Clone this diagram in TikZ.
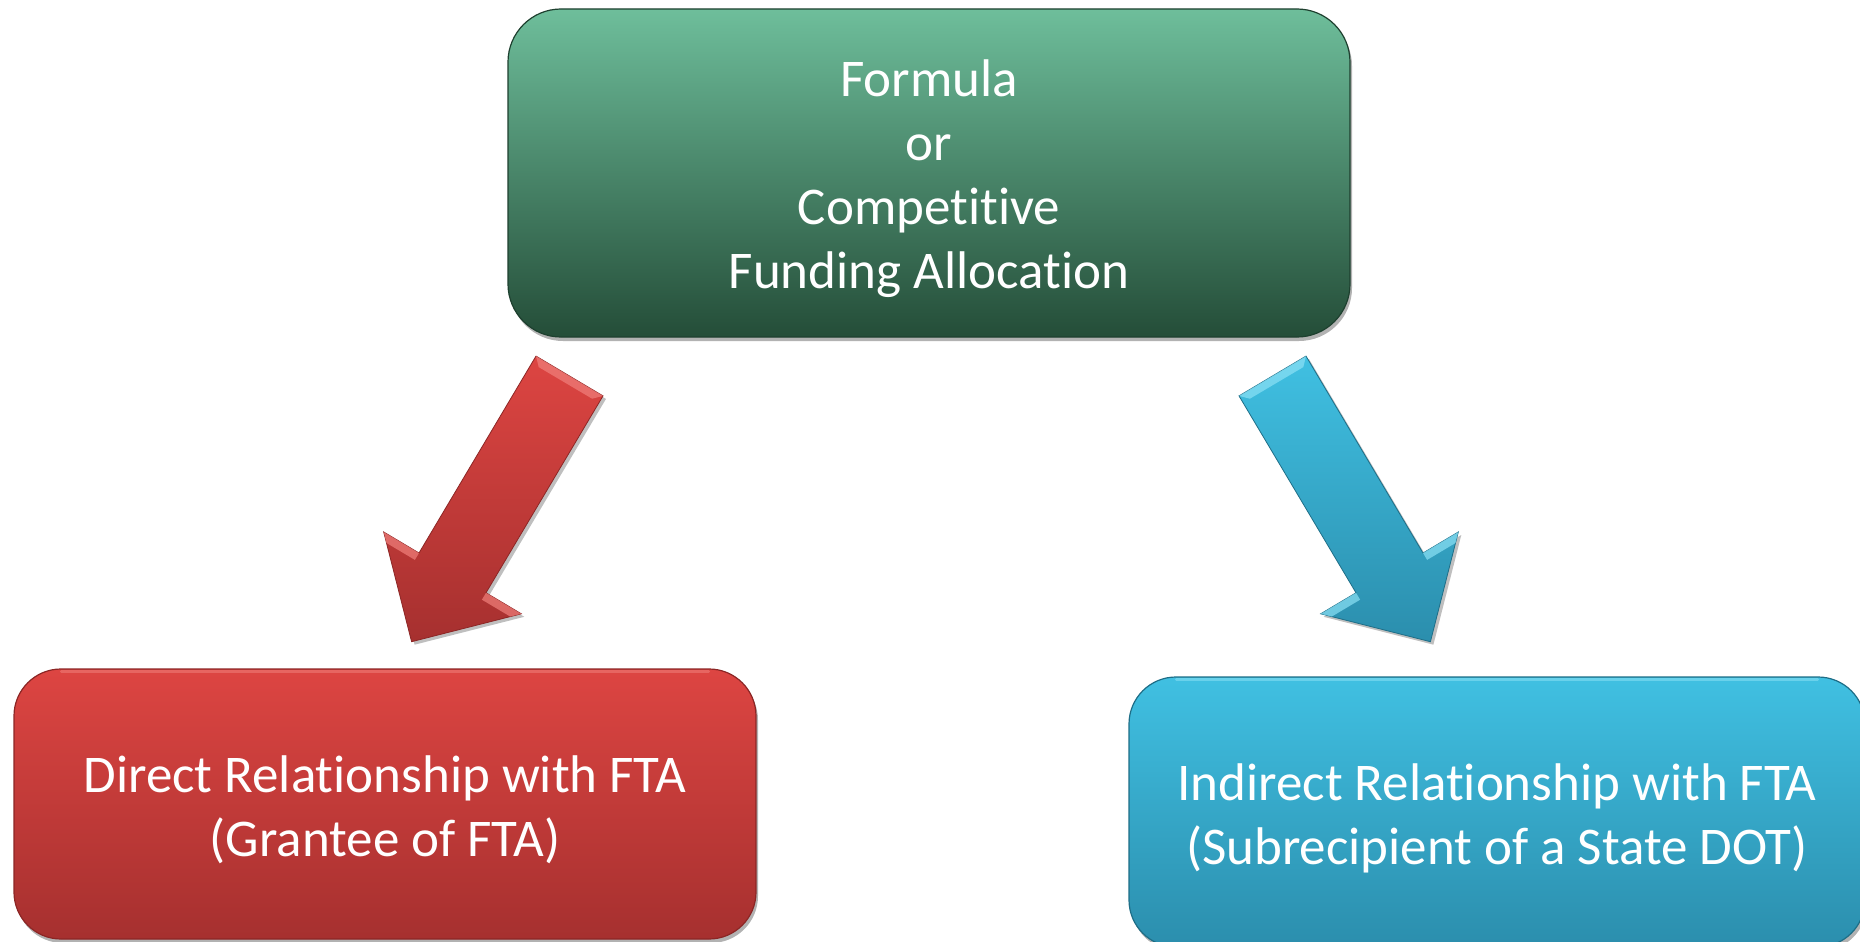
\documentclass[tikz,border=0pt]{standalone}
\usepackage{fontspec}
\setmainfont[Ligatures={NoCommon,NoContextual},RawFeature={-dlig}]{Carlito}
\usetikzlibrary{shadows,calc}
\definecolor{gtop}{RGB}{110,190,155}
\definecolor{gbot}{RGB}{36,77,56}
\definecolor{gedge}{RGB}{30,64,47}
\definecolor{rtop}{RGB}{221,69,66}
\definecolor{rbot}{RGB}{166,48,47}
\definecolor{redge}{RGB}{140,38,37}
\definecolor{rlight}{RGB}{240,128,124}
\definecolor{btop}{RGB}{64,192,226}
\definecolor{bbot}{RGB}{43,142,173}
\definecolor{bedge}{RGB}{30,110,135}
\definecolor{blight}{RGB}{140,225,245}
\begin{document}
\begin{tikzpicture}[x=1pt,y=-1pt,
  box/.style={draw=#1, line width=1.2pt, inner sep=0pt,
    drop shadow={shadow xshift=2pt, shadow yshift=-4pt, opacity=0.3, fill=black}},
  boxtext/.style={align=center, text=white, inner sep=0pt,
    font=\fontsize{53}{64}\selectfont},
  arrowbody/.style={draw=#1, line width=0.8pt,
    drop shadow={shadow xshift=3pt, shadow yshift=-3pt, opacity=0.25, fill=black}},
  bevel/.style={fill=#1, opacity=0.7},
  hilite/.style={draw=#1, line width=3pt, opacity=0.55, line cap=round}]
\useasboundingbox (0,0) rectangle (1860,942);
\fill[white] (0,0) rectangle (1860,942);

% top box
\node[box=gedge, top color=gtop, bottom color=gbot, rounded corners=53pt,
  minimum width=842pt, minimum height=328pt] (top) at (929,173) {};
\node[boxtext] (toptxt) at ($(top.center)+(0,6)$)
  {Formula\\or\\Competitive\\Funding Allocation};

% left box
\node[box=redge, top color=rtop, bottom color=rbot, rounded corners=47pt,
  minimum width=742pt, minimum height=270pt] (left) at (385,804) {};
\draw[hilite=rlight] ($(left.north west)+(48,3)$) -- ($(left.north east)+(-48,3)$);
\node[boxtext] (lefttxt) at ($(left.center)+(0,6)$)
  {Direct Relationship with FTA\\(Grantee of FTA)};

% right box
\node[box=bedge, top color=btop, bottom color=bbot, rounded corners=47pt,
  minimum width=736pt, minimum height=270pt] (right) at (1497,812) {};
\draw[hilite=blight] ($(right.north west)+(48,3)$) -- ($(right.north east)+(-48,3)$);
\node[boxtext] (righttxt) at ($(right.center)+(0,6)$)
  {Indirect Relationship with FTA\\(Subrecipient of a State DOT)};

% red arrow
\coordinate (rtl) at (536.0,356.1);
\coordinate (rtr) at (603.0,395.9);
\coordinate (rjr) at (486.0,592.8);
\coordinate (rbr) at (521.3,613.8);
\coordinate (rtip) at (411.6,641.7);
\coordinate (rbl) at (383.7,532.0);
\coordinate (rjl) at (419.0,553.0);
\path[arrowbody=redge, top color=rtop, bottom color=rbot]
  (rtl) -- (rtr) -- (rjr) -- (rbr) -- (rtip) -- (rbl) -- (rjl) -- cycle;
\fill[bevel=rlight] (rtl) -- (rtr) -- (592.1,398.7) -- (538.7,367.1) -- cycle;
\fill[bevel=rlight] (rjr) -- (rbr) -- (510.3,616.6) -- (481.9,599.7) -- cycle;
\fill[bevel=rlight] (rjl) -- (rbl) -- (386.5,543.0) -- (414.9,559.9) -- cycle;

% blue arrow (mirror about x = 921)
\coordinate (btl) at (1306.0,356.1);
\coordinate (btr) at (1239.0,395.9);
\coordinate (bjr) at (1356.0,592.8);
\coordinate (bbr) at (1320.7,613.8);
\coordinate (btip) at (1430.4,641.7);
\coordinate (bbl) at (1458.3,532.0);
\coordinate (bjl) at (1423.0,553.0);
\path[arrowbody=bedge, top color=btop, bottom color=bbot]
  (btl) -- (btr) -- (bjr) -- (bbr) -- (btip) -- (bbl) -- (bjl) -- cycle;
\fill[bevel=blight] (btl) -- (btr) -- (1249.9,398.7) -- (1303.3,367.1) -- cycle;
\fill[bevel=blight] (bjr) -- (bbr) -- (1331.7,616.6) -- (1360.1,599.7) -- cycle;
\fill[bevel=blight] (bjl) -- (bbl) -- (1455.5,543.0) -- (1427.1,559.9) -- cycle;
\end{tikzpicture}
\end{document}
